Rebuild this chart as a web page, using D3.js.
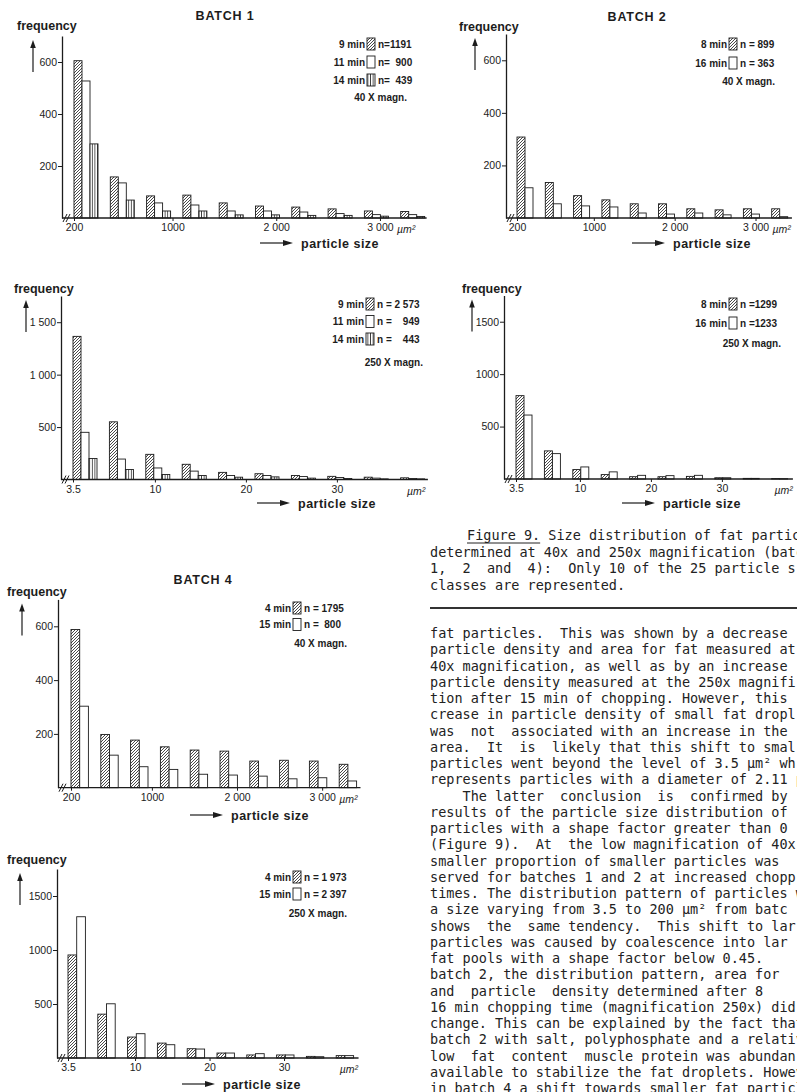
<!DOCTYPE html>
<html>
<head>
<meta charset="utf-8">
<script src="https://cdn.jsdelivr.net/npm/d3@7"></script>
<style>
body { margin: 0; background: #fff; }
svg { display: block; }
.t { font-family: "Liberation Sans", Arial, sans-serif; fill: #1c1c1c; }
.mono { font-family: "DejaVu Sans Mono", monospace; font-size: 13.5px; fill: #222; white-space: pre; }
</style>
</head>
<body>
<div id="page"></div>
<script>
// particle size classes shown (10 of the 25), lower bounds
var classes40 = [200, 400, 750, 1100, 1450, 1800, 2150, 2500, 2850, 3200];
var classes250 = [3.5, 5, 9, 13, 17, 21, 25, 29, 33, 37];

var sizeTicks40 = [200, 1000, 2000, 3000];
var sizeLabels40 = ["200", "1000", "2 000", "3 000"];
var sizeTicks250 = [3.5, 10, 20, 30];
var sizeLabels250 = ["3.5", "10", "20", "30"];

var freqTicks40 = [200, 400, 600];
var freqLabels40 = ["200", "400", "600"];
var freqTicks250 = [500, 1000, 1500];
var freqLabels250a = ["500", "1 000", "1 500"];
var freqLabels250b = ["500", "1000", "1500"];

// batch 1
var times1 = ["9 min", "11 min", "14 min"];
var n1x40 = ["n=1191", "n=  900", "n=  439"];
var b1x40_9 = [605, 158, 85, 88, 58, 46, 42, 35, 27, 25];
var b1x40_11 = [527, 135, 58, 50, 27, 27, 23, 17, 13, 13];
var b1x40_14 = [285, 69, 27, 27, 12, 12, 10, 10, 7, 6];
var n1x250 = ["n = 2 573", "n =    949", "n =    443"];
var b1x250_9 = [1365, 550, 240, 145, 68, 55, 38, 30, 22, 16];
var b1x250_11 = [450, 195, 110, 80, 38, 38, 28, 19, 13, 10];
var b1x250_14 = [200, 95, 48, 38, 22, 25, 13, 10, 6, 6];

// batch 2
var times2 = ["8 min", "16 min"];
var n2x40 = ["n = 899", "n = 363"];
var b2x40_8 = [308, 135, 85, 69, 54, 54, 35, 31, 35, 35];
var b2x40_16 = [115, 54, 46, 42, 19, 15, 19, 12, 15, 5];
var n2x250 = ["n =1299", "n =1233"];
var b2x250_8 = [795, 268, 90, 42, 22, 22, 25, 12, 6, 4];
var b2x250_16 = [610, 242, 115, 68, 35, 32, 35, 12, 6, 3];

// batch 4
var times4 = ["4 min", "15 min"];
var n4x40 = ["n = 1795", "n =  800"];
var b4x40_4 = [588, 198, 177, 152, 140, 136, 99, 102, 99, 87];
var b4x40_15 = [303, 121, 78, 68, 50, 47, 43, 33, 37, 25];
var n4x250 = ["n = 1 973", "n = 2 397"];
var b4x250_4 = [954, 406, 194, 138, 86, 46, 28, 28, 15, 22];
var b4x250_15 = [1308, 502, 225, 123, 83, 46, 40, 28, 12, 22];

var captionLines = [
  "Figure 9. Size distribution of fat partic",
  "determined at 40x and 250x magnification (batc",
  "1,  2  and  4):  Only 10 of the 25 particle s",
  "classes are represented."
];

var bodyLines = [
  "fat particles.  This was shown by a decrease",
  "particle density and area for fat measured at",
  "40x magnification, as well as by an increase",
  "particle density measured at the 250x magnifi",
  "tion after 15 min of chopping. However, this",
  "crease in particle density of small fat dropl",
  "was  not  associated with an increase in the",
  "area.  It  is  likely that this shift to smal",
  "particles went beyond the level of 3.5 \u00b5m\u00b2 wh",
  "represents particles with a diameter of 2.11 \u00b5",
  "    The latter  conclusion  is  confirmed by",
  "results of the particle size distribution of",
  "particles with a shape factor greater than 0",
  "(Figure 9).  At  the low magnification of 40x",
  "smaller proportion of smaller particles was",
  "served for batches 1 and 2 at increased chopp",
  "times. The distribution pattern of particles w",
  "a size varying from 3.5 to 200 \u00b5m\u00b2 from batc",
  "shows  the  same tendency.  This shift to lar",
  "particles was caused by coalescence into lar",
  "fat pools with a shape factor below 0.45.",
  "batch 2, the distribution pattern, area for",
  "and  particle  density determined after 8",
  "16 min chopping time (magnification 250x) did",
  "change. This can be explained by the fact that",
  "batch 2 with salt, polyphosphate and a relativ",
  "low  fat  content  muscle protein was abundan",
  "available to stabilize the fat droplets. Howev",
  "in batch 4 a shift towards smaller fat particl"
];

var ink = "#1c1c1c";

var svg = d3.select("#page").append("svg")
  .attr("width", 797)
  .attr("height", 1092);

svg.append("rect").attr("width", 797).attr("height", 1092).attr("fill", "#fff");

var defs = svg.append("defs");
var hatch = defs.append("pattern").attr("id", "hatch")
  .attr("patternUnits", "userSpaceOnUse").attr("width", 3).attr("height", 3);
hatch.append("rect").attr("width", 3).attr("height", 3).attr("fill", "#fff");
hatch.append("path").attr("d", "M-0.75,0.75 l1.5,-1.5 M0,3 l3,-3 M2.25,3.75 l1.5,-1.5")
  .attr("stroke", ink).attr("stroke-width", 0.8);
var vert = defs.append("pattern").attr("id", "vert")
  .attr("patternUnits", "userSpaceOnUse").attr("width", 2.6).attr("height", 4);
vert.append("rect").attr("width", 2.6).attr("height", 4).attr("fill", "#fff");
vert.append("line").attr("x1", 1.3).attr("x2", 1.3).attr("y1", 0).attr("y2", 4)
  .attr("stroke", ink).attr("stroke-width", 0.8);

var fills = { hatch: "url(#hatch)", open: "#fff", vert: "url(#vert)" };

function series(times, ns, values, kinds) {
  return values.map(function(v, i) {
    return { time: times[i], n: ns[i], values: v, fill: kinds[i] };
  });
}

var panels = [
  { title: "BATCH 1", titleX: 225, titleY: 20,
    ax: 62, by: 218, ty: 36, yMax: 700, yTicks: freqTicks40, yLabels: freqLabels40,
    classes: classes40, xEnd: 3450, xTicks: sizeTicks40, xLabels: sizeLabels40, big: true,
    off: 12, step: 36.3, bw: 8,
    series: series(times1, n1x40, [b1x40_9, b1x40_11, b1x40_14], ["hatch", "open", "vert"]),
    legX: 367, legY: 44, legDy: 18, mag: "40 X magn.", magX: 407, magY: 97,
    freqX: 17, freqY: 30, arrowX: 33, psX: 260, psY: 243 },
  { title: "BATCH 2", titleX: 637, titleY: 21,
    ax: 506, by: 218, ty: 34, yMax: 700, yTicks: freqTicks40, yLabels: freqLabels40,
    classes: classes40, xEnd: 3450, xTicks: sizeTicks40, xLabels: sizeLabels40, big: true,
    off: 11, step: 28.3, bw: 8,
    series: series(times2, n2x40, [b2x40_8, b2x40_16], ["hatch", "open"]),
    legX: 729, legY: 44, legDy: 19, mag: "40 X magn.", magX: 775, magY: 81,
    freqX: 459, freqY: 31, arrowX: 475, psX: 632, psY: 243 },
  { ax: 61, by: 479.5, ty: 296, yMax: 1750, yTicks: freqTicks250, yLabels: freqLabels250a,
    classes: classes250, xEnd: 40, xTicks: sizeTicks250, xLabels: sizeLabels250, big: false,
    off: 12, step: 36.4, bw: 8,
    series: series(times1, n1x250, [b1x250_9, b1x250_11, b1x250_14], ["hatch", "open", "vert"]),
    legX: 366, legY: 304, legDy: 17.5, mag: "250 X magn.", magX: 423, magY: 362,
    freqX: 14, freqY: 293, arrowX: 26, psX: 257, psY: 503 },
  { ax: 504, by: 479, ty: 295.5, yMax: 1750, yTicks: freqTicks250, yLabels: freqLabels250b,
    classes: classes250, xEnd: 40, xTicks: sizeTicks250, xLabels: sizeLabels250, big: false,
    off: 12, step: 28.4, bw: 8,
    series: series(times2, n2x250, [b2x250_8, b2x250_16], ["hatch", "open"]),
    legX: 729, legY: 304, legDy: 19, mag: "250 X magn.", magX: 781, magY: 343,
    freqX: 462, freqY: 293, arrowX: 472, psX: 622, psY: 503 },
  { title: "BATCH 4", titleX: 203, titleY: 584,
    ax: 58, by: 787.7, ty: 599.4, yMax: 700, yTicks: freqTicks40, yLabels: freqLabels40,
    classes: classes40, xEnd: 3450, xTicks: sizeTicks40, xLabels: sizeLabels40, big: true,
    off: 13, step: 29.8, bw: 8.7,
    series: series(times4, n4x40, [b4x40_4, b4x40_15], ["hatch", "open"]),
    legX: 293, legY: 608, legDy: 16.5, mag: "40 X magn.", magX: 347, magY: 643,
    freqX: 7, freqY: 596, arrowX: 22, psX: 190, psY: 815 },
  { ax: 57, by: 1058, ty: 869, yMax: 1750, yTicks: freqTicks250, yLabels: freqLabels250b,
    classes: classes250, xEnd: 40, xTicks: sizeTicks250, xLabels: sizeLabels250, big: false,
    off: 11, step: 29.8, bw: 8.7,
    series: series(times4, n4x250, [b4x250_4, b4x250_15], ["hatch", "open"]),
    legX: 293, legY: 877, legDy: 17, mag: "250 X magn.", magX: 347, magY: 913,
    freqX: 7, freqY: 864, arrowX: 20, psX: 182, psY: 1084 }
];

function drawPanel(p) {
  var g = svg.append("g").attr("class", "t");
  var c = p.classes;
  var r0 = p.ax + p.off, r1 = r0 + p.step;
  var r2 = r1 + (p.xEnd - c[1]) / (c[2] - c[1]) * p.step;
  // the axis is broken between the first two classes
  var x = d3.scaleLinear().domain([c[0], c[1], p.xEnd]).range([r0, r1, r2]);
  var y = d3.scaleLinear().domain([0, p.yMax]).range([p.by, p.ty]);

  p.series.forEach(function(s, si) {
    g.selectAll(null).data(s.values).join("rect")
      .attr("x", function(d, i) { return x(c[i]) + si * p.bw; })
      .attr("y", function(d) { return y(d); })
      .attr("width", p.bw)
      .attr("height", function(d) { return p.by - y(d); })
      .attr("fill", fills[s.fill])
      .attr("stroke", ink)
      .attr("stroke-width", 0.9);
  });

  var ya = g.append("g")
    .attr("transform", "translate(" + p.ax + ",0)")
    .call(d3.axisLeft(y).tickValues(p.yTicks)
      .tickFormat(function(d, i) { return p.yLabels[i]; })
      .tickSize(4).tickSizeOuter(0).tickPadding(1));
  ya.attr("font-family", null).attr("font-size", 10.5);
  ya.select(".domain").attr("stroke", ink).attr("stroke-width", 1.3);
  ya.selectAll(".tick line").attr("stroke", ink);
  ya.selectAll(".tick text").attr("fill", ink);

  g.append("line")
    .attr("x1", p.ax).attr("x2", r2)
    .attr("y1", p.by).attr("y2", p.by)
    .attr("stroke", ink).attr("stroke-width", 1.3);

  var xa = g.append("g")
    .attr("transform", "translate(0," + p.by + ")")
    .call(d3.axisBottom(x).tickValues(p.xTicks)
      .tickFormat(function(d, i) { return p.xLabels[i]; })
      .tickSize(3).tickPadding(3));
  xa.select(".domain").remove();
  xa.attr("font-family", null).attr("font-size", 10.5);
  xa.selectAll(".tick line").attr("stroke", ink);
  xa.selectAll(".tick text").attr("fill", ink);

  if (p.big) {
    g.append("text").attr("font-size", 10.5).attr("font-style", "italic")
      .attr("x", x(3000) + 17).attr("y", p.by + 15).text("\u00b5m\u00b2");
  } else {
    g.append("text").attr("font-size", 10.5).attr("font-style", "italic")
      .attr("text-anchor", "middle")
      .attr("x", x(38.7)).attr("y", p.by + 15).text("\u00b5m\u00b2");
  }

  // axis break
  [3, 6].forEach(function(dx) {
    g.append("line")
      .attr("x1", p.ax + dx - 2).attr("y1", p.by + 4)
      .attr("x2", p.ax + dx + 2).attr("y2", p.by - 4)
      .attr("stroke", ink).attr("stroke-width", 1);
  });

  // legend
  p.series.forEach(function(s, si) {
    var ly = p.legY + si * p.legDy;
    g.append("text").attr("font-size", 10).attr("font-weight", "bold")
      .attr("x", p.legX - 2).attr("y", ly + 3.5)
      .attr("text-anchor", "end").text(s.time);
    g.append("rect")
      .attr("x", p.legX).attr("y", ly - 6)
      .attr("width", 8).attr("height", 12)
      .attr("fill", fills[s.fill]).attr("stroke", ink).attr("stroke-width", 0.9);
    g.append("text").attr("font-size", 10).attr("font-weight", "bold")
      .attr("xml:space", "preserve").style("white-space", "pre")
      .attr("x", p.legX + 11).attr("y", ly + 3.5).text(s.n);
  });
  g.append("text").attr("font-size", 10).attr("font-weight", "bold")
    .attr("x", p.magX).attr("y", p.magY + 3.5)
    .attr("text-anchor", "end").text(p.mag);

  if (p.title) {
    g.append("text").attr("font-size", 12.5).attr("font-weight", "bold")
      .attr("letter-spacing", 0.8).attr("text-anchor", "middle")
      .attr("x", p.titleX).attr("y", p.titleY).text(p.title);
  }

  g.append("text").attr("font-size", 12.5).attr("font-weight", "bold")
    .attr("x", p.freqX).attr("y", p.freqY).text("frequency");

  var at = p.ty + 4;
  g.append("line")
    .attr("x1", p.arrowX).attr("x2", p.arrowX)
    .attr("y1", at + 6).attr("y2", at + 32)
    .attr("stroke", ink).attr("stroke-width", 1.2);
  g.append("path")
    .attr("d", "M" + p.arrowX + "," + at + " l-2.8,8 h5.6 z")
    .attr("fill", ink);

  g.append("line")
    .attr("x1", p.psX).attr("x2", p.psX + 25)
    .attr("y1", p.psY).attr("y2", p.psY)
    .attr("stroke", ink).attr("stroke-width", 1.2);
  g.append("path")
    .attr("d", "M" + (p.psX + 33) + "," + p.psY + " l-10,-3 v6 z")
    .attr("fill", ink);
  g.append("text").attr("font-size", 12.5).attr("font-weight", "bold")
    .attr("letter-spacing", 0.5)
    .attr("x", p.psX + 41).attr("y", p.psY + 4.5).text("particle size");
}

panels.forEach(drawPanel);

// caption and running text
var tx = 430;
svg.selectAll(".cap").data(captionLines).join("text")
  .attr("class", "mono cap")
  .attr("xml:space", "preserve")
  .attr("x", function(d, i) { return i === 0 ? 467 : tx; })
  .attr("y", function(d, i) { return 540 + i * 16.5; })
  .text(function(d) { return d; });

svg.append("line")
  .attr("x1", 467).attr("x2", 467 + 9 * 8.13)
  .attr("y1", 543).attr("y2", 543)
  .attr("stroke", "#222").attr("stroke-width", 1);

svg.append("line")
  .attr("x1", tx).attr("x2", 797)
  .attr("y1", 608).attr("y2", 608)
  .attr("stroke", "#333").attr("stroke-width", 2);

svg.selectAll(".body").data(bodyLines).join("text")
  .attr("class", "mono body")
  .attr("xml:space", "preserve")
  .attr("x", tx)
  .attr("y", function(d, i) { return 638 + i * 16.25; })
  .text(function(d) { return d; });
</script>
</body>
</html>
